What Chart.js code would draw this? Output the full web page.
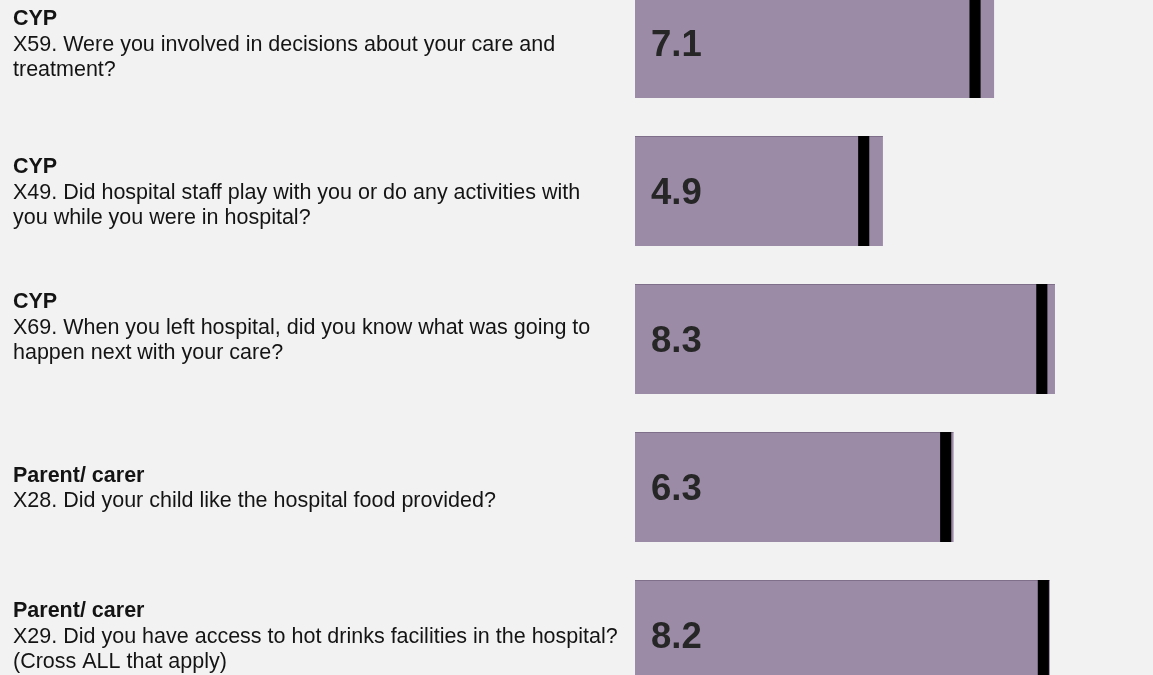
<!DOCTYPE html>
<html>
<head>
<meta charset="utf-8">
<title>Question scores</title>
<script src="https://cdn.jsdelivr.net/npm/chart.js@4"></script>
<style>
    html, body {
        margin: 0;
        padding: 0;
        background: #f2f2f2;
        overflow: hidden;
        width: 1153px;
        height: 675px;
    }
    #wrap {
        position: relative;
        width: 1153px;
        height: 740px;
        margin-top: -31px; /* first bar is cut off at the top in the original */
    }
</style>
</head>
<body>
<div id="wrap"><canvas id="scoreChart" width="1153" height="740"></canvas></div>
<script>
const questionCodes = ['X59', 'X49', 'X69', 'X28', 'X29'];
const respondentGroups = ['CYP', 'CYP', 'CYP', 'Parent/ carer', 'Parent/ carer'];
const questionLines = [
    ['X59. Were you involved in decisions about your care and', 'treatment?'],
    ['X49. Did hospital staff play with you or do any activities with', 'you while you were in hospital?'],
    ['X69. When you left hospital, did you know what was going to', 'happen next with your care?', ''],
    ['X28. Did your child like the hospital food provided?'],
    ['X29. Did you have access to hot drinks facilities in the hospital?', '(Cross ALL that apply)']
];
const scores = [7.1, 4.9, 8.3, 6.3, 8.2];
const comparisonMarks = [6.72, 4.52, 8.04, 6.14, 8.07]; // black line in each bar

const FONT = '"Liberation Sans", Arial, sans-serif';
const markHalfWidth = 0.11; // thickness of the black line, in score units

// Draws the question text on the left and the score inside each bar
const labelPlugin = {
    id: 'labelPlugin',
    afterDatasetsDraw(chart) {
        const ctx = chart.ctx;
        const yScale = chart.scales.y;
        const xScale = chart.scales.x;
        const pitch = 25.5;
        const capH = 15.4;

        ctx.save();
        ctx.textAlign = 'left';
        ctx.textBaseline = 'alphabetic';

        questionCodes.forEach((code, i) => {
            const cy = yScale.getPixelForValue(i);
            const lines = [respondentGroups[i], ...questionLines[i]];
            const blockH = (lines.length - 1) * pitch + capH;
            let y = cy - blockH / 2 + capH;

            lines.forEach((line, j) => {
                ctx.fillStyle = '#141414';
                ctx.font = (j === 0 ? 'bold ' : '') + '21.5px ' + FONT;
                ctx.fillText(line, 13, y);
                y += pitch;
            });

            // score value, just inside the start of the bar
            ctx.fillStyle = '#262626';
            ctx.font = 'bold 36.5px ' + FONT;
            ctx.fillText(scores[i].toFixed(1), xScale.getPixelForValue(0) + 16, cy + 13.3);
        });
        ctx.restore();
    }
};

const ctx = document.getElementById('scoreChart').getContext('2d');
const chart = new Chart(ctx, {
    type: 'bar',
    data: {
        labels: questionCodes,
        datasets: [
            {
                label: 'Comparison',
                data: comparisonMarks.map(v => [v - markHalfWidth, v + markHalfWidth]),
                backgroundColor: '#000000',
                borderWidth: 0,
                grouped: false,
                order: 0,
                barPercentage: 110 / 148,
                categoryPercentage: 1
            },
            {
                label: 'Score',
                data: scores,
                backgroundColor: '#9c8ba7',
                borderColor: '#7f6f8b',
                borderWidth: { top: 1, right: 0, bottom: 0, left: 0 },
                borderSkipped: false,
                grouped: false,
                order: 1,
                barPercentage: 110 / 148,
                categoryPercentage: 1
            }
        ]
    },
    options: {
        indexAxis: 'y',
        responsive: false,
        animation: false,
        layout: {
            padding: { left: 635, right: 12, top: 0, bottom: 0 }
        },
        scales: {
            x: {
                min: 0,
                max: 10,
                display: false
            },
            y: {
                display: false,
                offset: true
            }
        },
        plugins: {
            legend: { display: false },
            tooltip: { enabled: false }
        }
    },
    plugins: [labelPlugin]
});
</script>
</body>
</html>
